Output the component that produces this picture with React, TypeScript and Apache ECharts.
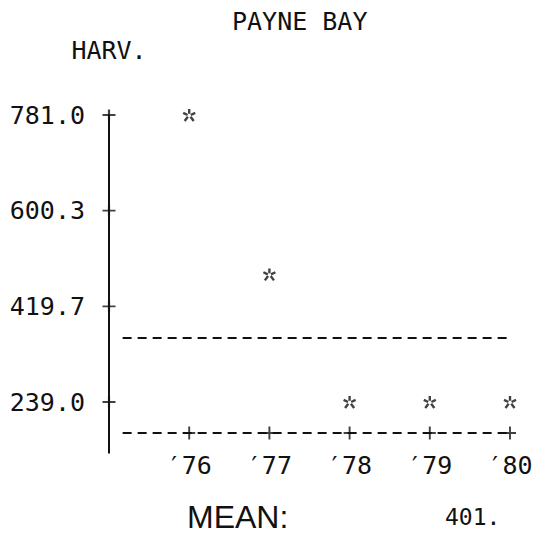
import React, { useEffect, useRef } from "react";
import * as echarts from "echarts";

// ---- data ----
const years = [1976, 1977, 1978, 1979, 1980];
const yearLabels = ["′76", "′77", "′78", "′79", "′80"];
const harvest = [781.0, 480.0, 239.0, 239.0, 239.0];
const yTickValues = [239.0, 419.7, 600.3, 781.0];
const meanValue = 401;
const meanLineLevel = 360; // where the dashed mean line is printed on the chart

const MONO = "'DejaVu Sans Mono', 'Liberation Mono', monospace";
const SANS = "'Liberation Sans', Arial, sans-serif";
const INK = "#111";

const starPath =
  "path://M5 0 L5 4 M0.5 3.2 L3.8 5 M9.5 3.2 L6.2 5 M1.6 10 L4 6.4 M8.4 10 L6 6.4";
const plusPath = "path://M0 5 L10 5 M5 0 L5 10";

export default function App() {
  const ref = useRef<HTMLDivElement>(null);
  useEffect(() => {
    if (!ref.current) return;
    const chart = echarts.init(ref.current, null, { renderer: "svg" });
    const xMin = 1975;
    const xMax = 1980;
    const yMin = 180.5;
    const yMax = 781.0;
    const yStub = 142; // y-axis line continues a little below the x axis
    const dashStart = 1975.17; // printed dashes begin a little right of the y axis
    chart.setOption({
      animation: false,
      backgroundColor: "#fff",
      title: [
        {
          text: "PAYNE BAY",
          left: 227,
          top: 4,
          textStyle: { fontFamily: MONO, fontSize: 25, fontWeight: "normal", color: INK },
        },
        {
          text: "MEAN:",
          left: 182,
          top: 496,
          textStyle: { fontFamily: SANS, fontSize: 32, fontWeight: "normal", color: INK },
        },
        {
          text: String(meanValue) + ".",
          left: 440,
          top: 500,
          textStyle: { fontFamily: MONO, fontSize: 23, fontWeight: "normal", color: INK },
        },
      ],
      grid: { left: 109, right: 30, top: 115, bottom: 120, containLabel: false },
      xAxis: {
        type: "value",
        min: xMin,
        max: xMax,
        interval: 1,
        splitLine: { show: false },
        axisLine: { show: false },
        axisTick: { show: false },
        axisLabel: {
          show: true,
          customValues: years,
          margin: 20,
          formatter: (v: number) => yearLabels[years.indexOf(v)] ?? "",
          fontFamily: MONO,
          fontSize: 25,
          color: INK,
        },
      },
      yAxis: {
        type: "value",
        min: yMin,
        max: yMax,
        name: "HARV.",
        nameLocation: "end",
        nameGap: 52,
        nameTextStyle: { fontFamily: MONO, fontSize: 25, color: INK },
        splitLine: { show: false },
        axisLine: { show: true, lineStyle: { color: INK, width: 2 } },
        axisTick: { show: false },
        axisLabel: {
          show: true,
          customValues: yTickValues,
          margin: 24,
          formatter: (v: number) => v.toFixed(1),
          fontFamily: MONO,
          fontSize: 25,
          color: INK,
        },
      },
      series: [
        {
          // mean line (dashed)
          type: "line",
          data: [
            [dashStart, meanLineLevel],
            [1980.04, meanLineLevel],
          ],
          symbol: "none",
          silent: true,
          clip: false,
          lineStyle: { color: INK, width: 2, type: [9, 6] },
        },
        {
          // dashed x-axis line
          type: "line",
          data: [
            [dashStart, yMin],
            [xMax, yMin],
          ],
          symbol: "none",
          silent: true,
          clip: false,
          lineStyle: { color: INK, width: 2, type: [9, 6] },
        },
        {
          // y-axis continuation below the x axis
          type: "line",
          data: [
            [xMin, yMin],
            [xMin, yStub],
          ],
          symbol: "none",
          silent: true,
          clip: false,
          lineStyle: { color: INK, width: 2 },
        },
        {
          // '+' tick marks on the y axis
          type: "scatter",
          data: yTickValues.map((v) => [xMin, v]),
          symbol: plusPath,
          symbolSize: [13, 11],
          silent: true,
          clip: false,
          itemStyle: { color: "transparent", borderColor: INK, borderWidth: 2 },
        },
        {
          // '+' tick marks on the x axis
          type: "scatter",
          data: years.map((y) => [y, yMin]),
          symbol: plusPath,
          symbolSize: [12, 13],
          silent: true,
          clip: false,
          itemStyle: { color: "transparent", borderColor: INK, borderWidth: 2 },
        },
        {
          type: "scatter",
          data: years.map((y, i) => [y, harvest[i]]),
          symbol: starPath,
          symbolSize: 12,
          clip: false,
          itemStyle: { color: "transparent", borderColor: INK, borderWidth: 2.4 },
        },
      ],
    });
    return () => chart.dispose();
  }, []);
  return (
    <div
      ref={ref}
      style={{ position: "absolute", left: 0, top: 0, width: 540, height: 553 }}
    />
  );
}
